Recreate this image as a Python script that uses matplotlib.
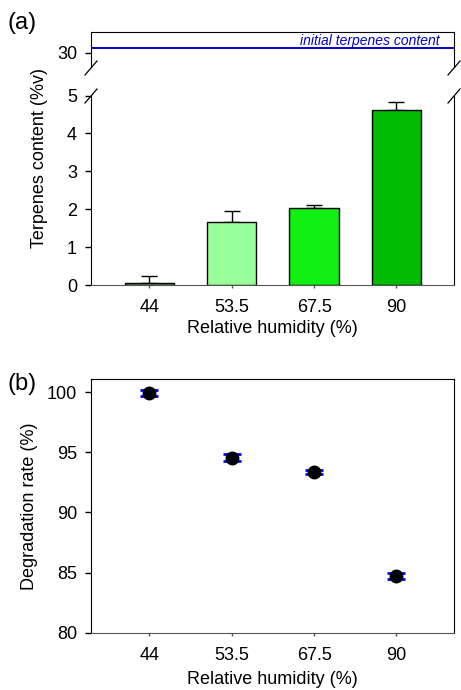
import matplotlib
matplotlib.use("Agg")
import matplotlib.pyplot as plt
from matplotlib.lines import Line2D

plt.rcParams['font.family'] = ['Liberation Sans', 'DejaVu Sans']

# ---- data ----
categories = ['44', '53.5', '67.5', '90']
terpenes = [0.05, 1.66, 2.02, 4.63]
terpenes_err = [0.20, 0.30, 0.09, 0.20]
bar_colors = ['#6f9f6f', '#99ff99', '#11ee11', '#00bb00']
initial_content = 30.12
degradation = [99.9, 94.55, 93.35, 84.72]
degradation_err = [0.25, 0.30, 0.17, 0.27]
a_lower_ticks = [0, 1, 2, 3, 4, 5]
a_upper_ticks = [30]
b_ticks = [80, 85, 90, 95, 100]

W, H = 461, 690
fig = plt.figure(figsize=(W / 100, H / 100), dpi=100)

def box(x0, y0, x1, y1):
    return [x0 / W, 1 - y1 / H, (x1 - x0) / W, (y1 - y0) / H]

FS = 13
spine_gray = '#555555'
x = list(range(len(categories)))
xlim = (-0.71, 3.70)

# ---- panel (a) upper ----
axu = fig.add_axes(box(91, 32, 454, 67))
axu.set_xlim(*xlim)
axu.set_ylim(29.63, 30.55)
axu.axhline(initial_content, color='#0000cc', lw=1.4)
axu.text(0.96, 0.62, 'initial terpenes content',
         transform=axu.transAxes, ha='right', va='baseline', color='#0000cc',
         style='italic', fontsize=10)
axu.spines['bottom'].set_visible(False)
axu.set_xticks([])
axu.set_yticks(a_upper_ticks)
axu.tick_params(axis='y', direction='out', length=4, width=1, labelsize=FS, pad=6)

# ---- panel (a) lower ----
axl = fig.add_axes(box(91, 95.5, 454, 285))
axl.bar(x, terpenes, width=0.6, color=bar_colors, edgecolor='black', linewidth=1, zorder=2)
axl.errorbar(x, terpenes, yerr=[[0] * 4, terpenes_err], fmt='none', ecolor='black',
             elinewidth=1, capsize=5.5, capthick=1, zorder=1)
axl.set_xlim(*xlim)
axl.set_ylim(0, 5.0)
axl.spines['top'].set_visible(False)
axl.spines['bottom'].set_color(spine_gray)
axl.set_yticks(a_lower_ticks)
axl.set_xticks(x)
axl.set_xticklabels(categories)
axl.tick_params(axis='y', direction='out', length=4, width=1, labelsize=FS, pad=6)
axl.tick_params(axis='x', direction='out', length=2, width=1, labelsize=FS, pad=8, color=spine_gray)

# break marks
for xp in (91, 454):
    for yp in (68, 96):
        fig.add_artist(Line2D([(xp - 6) / W, (xp + 6) / W], [1 - (yp + 7) / H, 1 - (yp - 7) / H],
                              color='black', lw=0.9))

# ---- panel (b) ----
axb = fig.add_axes(box(91, 379.3, 454, 632.7))
axb.errorbar(x, degradation, yerr=degradation_err, fmt='o', color='black', ms=9,
             ecolor='#0000ff', elinewidth=1.2, capsize=6.5, capthick=2, zorder=3)
axb.set_xlim(*xlim)
axb.set_ylim(80, 101.08)
axb.spines['bottom'].set_color(spine_gray)
axb.set_yticks(b_ticks)
axb.set_xticks(x)
axb.set_xticklabels(categories)
axb.tick_params(axis='y', direction='out', length=4, width=1, labelsize=FS, pad=6)
axb.tick_params(axis='x', direction='out', length=2, width=1, labelsize=FS, pad=8, color=spine_gray)

# ---- labels ----
fig.text(22 / W, 1 - 23 / H, '(a)', fontsize=17, ha='center', va='center')
fig.text(22 / W, 1 - 384 / H, '(b)', fontsize=17, ha='center', va='center')
fig.text(40 / W, 1 - 158 / H, 'Terpenes content (%v)', rotation=90, fontsize=FS,
         ha='center', va='center')
fig.text(272 / W, 1 - 328 / H, 'Relative humidity (%)', fontsize=FS, ha='center', va='center')
fig.text(30 / W, 1 - 506 / H, 'Degradation rate (%)', rotation=90, fontsize=FS,
         ha='center', va='center')
fig.text(272 / W, 1 - 680 / H, 'Relative humidity (%)', fontsize=FS, ha='center', va='center')

fig.savefig('out.png', dpi=100)
